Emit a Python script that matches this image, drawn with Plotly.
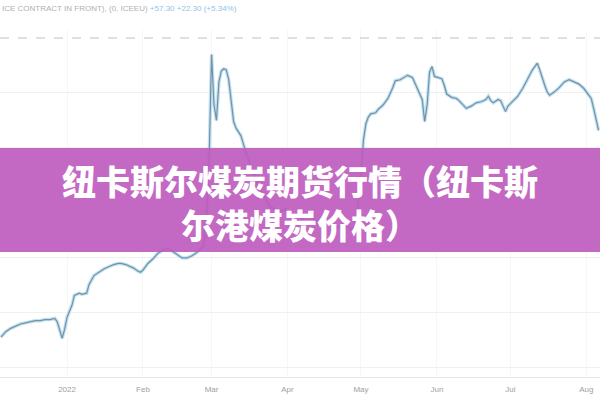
import plotly.graph_objects as go

dates = [
    "2021-12-05", "2021-12-07", "2021-12-09", "2021-12-11", "2021-12-13", "2021-12-15",
    "2021-12-17", "2021-12-19", "2021-12-21", "2021-12-23", "2021-12-25", "2021-12-27",
    "2021-12-28", "2021-12-29", "2021-12-30", "2021-12-31",
    "2022-01-01", "2022-01-03", "2022-01-04", "2022-01-06", "2022-01-07", "2022-01-09",
    "2022-01-10", "2022-01-12", "2022-01-14", "2022-01-16", "2022-01-18", "2022-01-20",
    "2022-01-22", "2022-01-23", "2022-01-25", "2022-01-28", "2022-01-30", "2022-01-31",
    "2022-02-01", "2022-02-03", "2022-02-05", "2022-02-07", "2022-02-09", "2022-02-11",
    "2022-02-13", "2022-02-15", "2022-02-17", "2022-02-19", "2022-02-21", "2022-02-23",
    "2022-02-25", "2022-02-26", "2022-02-27", "2022-02-28",
    "2022-03-01", "2022-03-02", "2022-03-03", "2022-03-04", "2022-03-05", "2022-03-06",
    "2022-03-07", "2022-03-08", "2022-03-09", "2022-03-10", "2022-03-11", "2022-03-13",
    "2022-03-15", "2022-03-17", "2022-03-19", "2022-03-21", "2022-03-23", "2022-03-25",
    "2022-03-28", "2022-03-31",
    "2022-04-03", "2022-04-06", "2022-04-09", "2022-04-12", "2022-04-15", "2022-04-18",
    "2022-04-21", "2022-04-24", "2022-04-27", "2022-04-29", "2022-04-30",
    "2022-05-01", "2022-05-02", "2022-05-03", "2022-05-04", "2022-05-05", "2022-05-07",
    "2022-05-08", "2022-05-10", "2022-05-12", "2022-05-14", "2022-05-15", "2022-05-17",
    "2022-05-19", "2022-05-20", "2022-05-22", "2022-05-23", "2022-05-24", "2022-05-25",
    "2022-05-26", "2022-05-27", "2022-05-28", "2022-05-29", "2022-05-30", "2022-05-31",
    "2022-06-02", "2022-06-03", "2022-06-04", "2022-06-05", "2022-06-07", "2022-06-09",
    "2022-06-10", "2022-06-12", "2022-06-13", "2022-06-15", "2022-06-17", "2022-06-19",
    "2022-06-21", "2022-06-22", "2022-06-23", "2022-06-24", "2022-06-26", "2022-06-27",
    "2022-06-28", "2022-06-29", "2022-06-30",
    "2022-07-02", "2022-07-04", "2022-07-06", "2022-07-08", "2022-07-10", "2022-07-12",
    "2022-07-13", "2022-07-15", "2022-07-16", "2022-07-17", "2022-07-19", "2022-07-21",
    "2022-07-23", "2022-07-25", "2022-07-27", "2022-07-29", "2022-07-31",
    "2022-08-02", "2022-08-03", "2022-08-04", "2022-08-05", "2022-08-06",
]

prices = [
    128, 133, 136, 138, 140, 141,
    142, 143, 143, 144, 144, 145,
    142, 135, 127, 135,
    146, 157, 166, 168, 167, 168,
    176, 184, 187, 190, 192, 194,
    195, 195, 194, 191, 188, 187,
    189, 195, 199, 204, 207, 209,
    206, 203, 200, 200, 202, 205,
    209, 213, 239, 289,
    385, 339, 325, 360, 370, 372,
    371, 362, 344, 324, 318, 311,
    296, 284, 271, 261, 254, 247,
    242, 244,
    236, 233, 239, 235, 229, 233,
    227, 231, 226, 230, 253,
    275, 307, 322, 328, 331, 332,
    335, 339, 345, 355, 361, 362,
    365, 366, 364, 359, 355, 349,
    344, 324, 339, 369, 374, 365,
    364, 363, 357, 349, 346, 345,
    343, 338, 336, 338, 341, 342,
    344, 347, 343, 341, 344, 343,
    338, 333, 338,
    343, 347, 354, 362, 371, 377,
    371, 357, 351, 348, 351, 355,
    360, 362, 360, 358, 354,
    348, 345, 336, 325, 316,
]

tick_dates = ["2022-01-01", "2022-02-01", "2022-03-01", "2022-04-01",
              "2022-05-01", "2022-06-01", "2022-07-01", "2022-08-01"]
tick_labels = ["2022", "Feb", "Mar", "Apr", "May", "Jun", "Jul", "Aug"]
grid_values = [100, 150, 200, 250, 300, 350]

title_line1 = "纽卡斯尔煤炭期货行情（纽卡斯"
title_line2 = "尔港煤炭价格）"

fig = go.Figure()
fig.add_trace(go.Scatter(x=dates, y=prices, mode="lines",
                         line=dict(color="rgba(170,220,245,0.8)", width=3.5),
                         hoverinfo="skip", showlegend=False))
fig.add_trace(go.Scatter(x=dates, y=prices, mode="lines",
                         line=dict(color="#7d8e9c", width=1.2),
                         showlegend=False))

fig.update_layout(
    width=600, height=400,
    margin=dict(l=0, r=0, t=30, b=23, autoexpand=False),
    paper_bgcolor="white", plot_bgcolor="white",
    xaxis=dict(
        range=["2021-12-04 15:00", "2022-08-06 14:00"],
        tickvals=tick_dates, ticktext=tick_labels,
        tickfont=dict(family="Liberation Sans", size=8, color="#a0a0a0"),
        ticklabelstandoff=4,
        showgrid=True, gridcolor="#f6f6f6",
        showline=True, linecolor="#e6e6e6", linewidth=1,
        zeroline=False, ticks="",
    ),
    yaxis=dict(
        range=[91.8, 407.2],
        tickvals=grid_values, showticklabels=False,
        showgrid=True, gridcolor="#f0f0f0", zeroline=False,
    ),
)

# dashed top reference line
fig.add_shape(type="line", xref="paper", yref="y", x0=0, x1=1, y0=400, y1=400,
              line=dict(color="#d6d6d6", width=1.5, dash="dash"))

# header text (quote line)
fig.add_annotation(
    xref="paper", yref="paper", x=0.0, y=1.063, xanchor="left", yanchor="middle",
    showarrow=False,
    text="ICE CONTRACT IN FRONT), (0, ICEEU) <span style='color:#8fc3e6'>+57.30 +22.30 (+5.34%)</span>",
    font=dict(family="Liberation Sans", size=8, color="#b0b0b0"),
)

# purple banner
fig.add_shape(type="rect", xref="paper", yref="paper", x0=0, x1=1, y0=0.3602, y1=0.6599,
              fillcolor="rgba(190,92,190,0.93)", line=dict(width=0), layer="above")

fig.add_annotation(xref="paper", yref="paper", x=0.5, y=0.503, showarrow=False,
                   text=title_line1 + "<br>" + title_line2,
                   xanchor="center", yanchor="middle", align="center",
                   font=dict(family="Noto Sans CJK SC", size=34, color="white", weight=900))

fig.write_html("out.html",
               config={"displayModeBar": False},
               post_script="document.body.style.margin='0';document.body.style.padding='0';")
